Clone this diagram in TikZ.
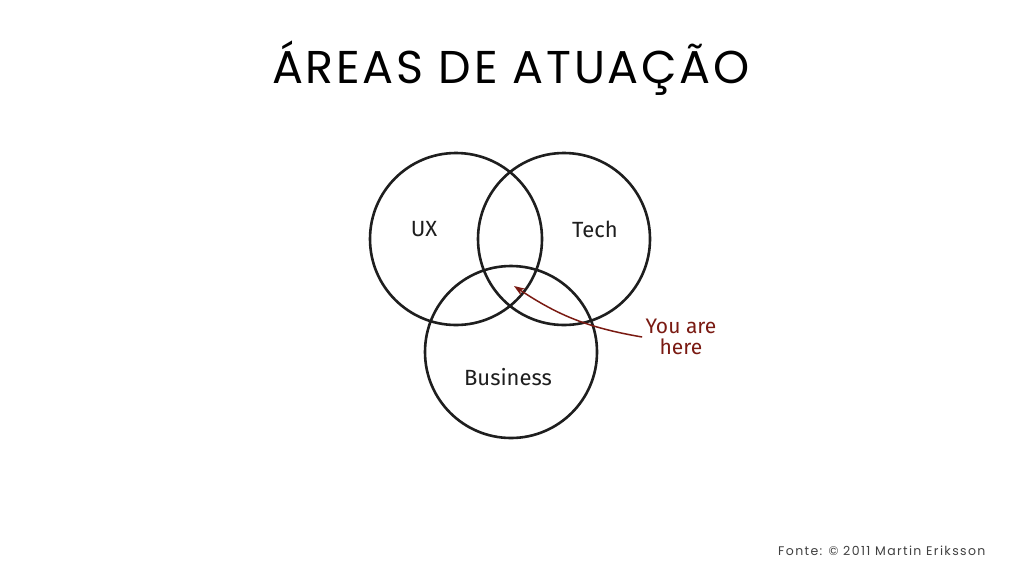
\documentclass[tikz,border=0pt]{standalone}
\usepackage{fontspec}
\setmainfont{Poppins}
\newfontfamily\titlefont[LetterSpace=6]{Poppins}
\newfontfamily\handfont{Fira Sans}
\newfontfamily\footfont[LetterSpace=11]{Poppins}
\usetikzlibrary{arrows.meta}
\definecolor{ink}{HTML}{1E1E1E}
\definecolor{herered}{HTML}{7A1A12}
\tikzset{
  venn/.style={circle, draw=ink, line width=2.6pt, minimum size=172pt, inner sep=0pt},
  area/.style={font=\handfont\fontsize{22}{24}\selectfont, text=ink},
}
\begin{document}
\begin{tikzpicture}[x=1pt, y=-1pt, >={Stealth[length=11pt,width=8pt]}]
\useasboundingbox[fill=white](0,0) rectangle (1024,576);
% title
\node (title) at (511,68) {\titlefont\fontsize{46}{50}\selectfont ÁREAS DE ATUAÇÃO};
% the three circles
\node[venn] (ux) at (456,239) {};
\node[venn] (tech) at (564,239) {};
\node[venn] (biz) at (511,352) {};
\node[area] (uxlbl) at (424,229) {UX};
\node[area] (techlbl) at (595,229) {Tech};
\node[area] (bizlbl) at (508,377) {Business};
% you are here
\node[area, text=herered, align=center, font=\handfont\fontsize{21}{21}\selectfont] (here) at (681,337) {You are\\here};
\coordinate (spot) at (514,286);
\draw[->, herered, line width=1.5pt] (here.west) to[bend left=12] (spot);
% source
\node[anchor=east, text=ink!85, font=\footfont\fontsize{12.5}{14}\selectfont] (src) at (989,551) {Fonte: © 2011 Martin Eriksson};
\end{tikzpicture}
\end{document}
